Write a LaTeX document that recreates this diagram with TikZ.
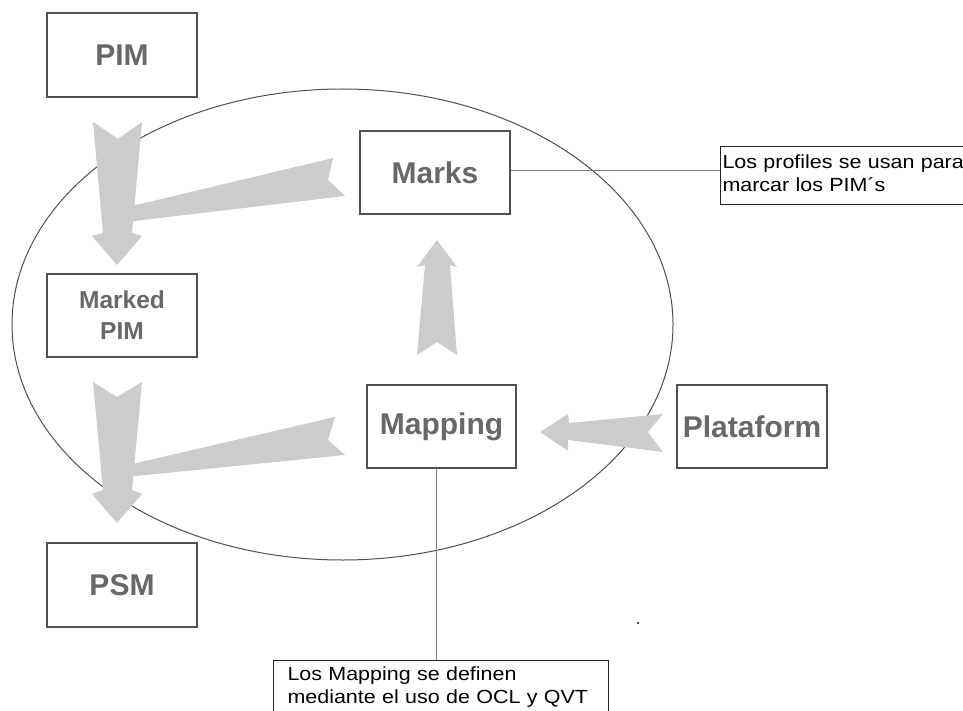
\documentclass[tikz,border=0pt]{standalone}
\usepackage{fontspec}
\setmainfont{Liberation Sans}
\newfontfamily\noteFont[FakeStretch=1.13]{Liberation Sans}
\definecolor{boxline}{HTML}{505050}
\definecolor{boxtext}{HTML}{686868}
\definecolor{arrowgray}{HTML}{CCCCCC}
\definecolor{leader}{HTML}{808080}
\tikzset{
  modelbox/.style={draw=boxline, line width=1.5pt, fill=white, minimum width=150pt,
    minimum height=83pt, inner sep=0pt, font=\bfseries\fontsize{30}{30}\selectfont,
    text=boxtext, align=center},
  smallbox/.style={modelbox, font=\bfseries\fontsize{24.5}{31}\selectfont},
  bigarrow/.style={fill=arrowgray, draw=none},
  notebox/.style={draw=black!85, line width=1pt, fill=white, anchor=north west,
    align=left, font=\noteFont\fontsize{19}{23}\selectfont},
  leaderline/.style={draw=leader, line width=1pt}
}
\begin{document}
\begin{tikzpicture}[x=1pt,y=-1pt]
\useasboundingbox[fill=white] (0,0) rectangle (963,711);
% ellipse
\draw[boxline, line width=1pt] (342.5,324.5) ellipse [x radius=330.5pt, y radius=235.5pt];
% block arrows
\fill[bigarrow] (93,122) -- (118,139) -- (142,122) -- (132,233) -- (142,236) -- (117,265) -- (92,236) -- (103,233) -- cycle;
\fill[bigarrow] (333,158) -- (328,180) -- (345,196) -- (126,222) -- (128,207) -- cycle;
\fill[bigarrow] (93,382) -- (117,397) -- (142,382) -- (132,490) -- (142,494) -- (117,523) -- (92,494) -- (103,490) -- cycle;
\fill[bigarrow] (335,417) -- (328,440) -- (345,455) -- (126,477) -- (128,465) -- cycle;
\fill[bigarrow] (437,240) -- (457,267) -- (450,265) -- (457,355) -- (437,342) -- (417,355) -- (425,265) -- (417,267) -- cycle;
\fill[bigarrow] (540,432) -- (568,414) -- (569,423) -- (663,414) -- (648,432) -- (663,452) -- (568,440) -- (568,451) -- cycle;
% boxes
\node[modelbox, minimum height=84pt] (pim) at (122,55) {PIM};
\node[modelbox] (marks) at (435,172.5) {Marks};
\node[smallbox] (markedpim) at (122,315.5) {Marked\\PIM};
\node[modelbox, minimum width=149pt] (mapping) at (441.5,426.5) {Mapping};
\node[modelbox] (plataform) at (752,426.5) {Plataform};
\node[modelbox, minimum height=84pt] (psm) at (122,585) {PSM};
% callouts
\node[notebox, inner xsep=2pt, inner ysep=5pt, text width=260pt] (note1) at (720,146)
  {\rule{0pt}{17pt}Los profiles se usan para\\marcar los PIM´s\rule[-8pt]{0pt}{8pt}};
\node[notebox, inner xsep=14pt, inner ysep=3pt, text width=307pt] (note2) at (273,660)
  {\rule{0pt}{17pt}Los Mapping se definen\\mediante el uso de OCL y QVT\rule[-12pt]{0pt}{12pt}};
% leader lines
\draw[leaderline] ([yshift=1.5pt]marks.east) -- ([yshift=1.5pt]marks.east -| note1.west);
\draw[leaderline] ([xshift=-5.5pt]mapping.south) -- ([xshift=-5.5pt]mapping.south |- note2.north);
% stray dot
\fill[black!70] (637,622) rectangle (639,624);
\end{tikzpicture}
\end{document}
